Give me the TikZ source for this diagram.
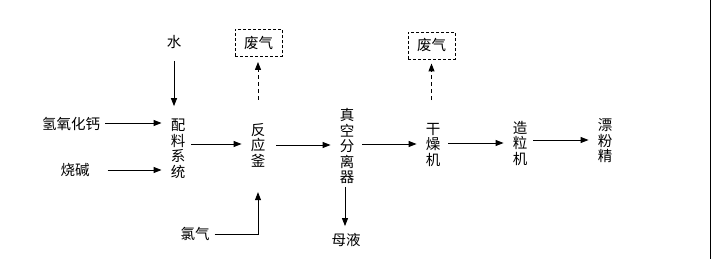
\documentclass[tikz,border=0pt]{standalone}
\usepackage{fontspec}
\newfontfamily\cjk{Noto Sans CJK SC}
\usetikzlibrary{arrows.meta, positioning, calc}

\begin{document}
\begin{tikzpicture}[
    x=1pt, y=-1pt,
    font=\cjk\fontsize{14.5}{15.5}\selectfont,
    >= {Triangle[length=8pt, width=6pt]},
    flow/.style={->, line width=0.9pt, shorten >=6pt, shorten <=3pt},
    vent/.style={->, line width=0.9pt, dash pattern=on 4pt off 3pt},
    stage/.style={align=center, inner xsep=3pt, inner ysep=1pt},
    feed/.style={inner sep=2pt},
    gasbox/.style={draw, line width=0.9pt, dash pattern=on 3pt off 2pt,
        minimum width=47pt, minimum height=27pt, inner sep=0pt},
    ]

    \useasboundingbox (0,0) rectangle (712,259);
    \draw[line width=1pt] (710.5,0) -- (710.5,259);

    % ==========================================
    % Process stages
    % ==========================================
    \node[stage] (mix)     at (178,149) {配\\料\\系\\统};
    \node[stage] (reactor) at (258,145) {反\\应\\釜};
    \node[stage] (sep)     at (347,146) {真\\空\\分\\离\\器};
    \node[stage] (dryer)   at (433,145) {干\\燥\\机};
    \node[stage] (gran)    at (520,143) {造\\粒\\机};
    \node[stage] (product) at (605,141) {漂\\粉\\精};

    % ==========================================
    % Feeds and by-products
    % ==========================================
    \node[feed] (water)    at (174,42)  {水};
    \node[feed] (lime)     at (71,124)  {氢氧化钙};
    \node[feed] (caustic)  at (75,170)  {烧碱};
    \node[feed] (chlorine) at (195,234) {氯气};
    \node[feed] (liquor)   at (346,240) {母液};
    \node[gasbox] (gas1) at (258.5,43)  {废气};
    \node[gasbox] (gas2) at (431.5,45.5) {废气};

    % ==========================================
    % Connectors
    % ==========================================
    \draw[->, line width=0.9pt, shorten <=10pt, shorten >=12pt]
        (water.south) -- (water.south |- mix.north);
    \draw[flow] (lime.east |- 0,123) -- (mix.west |- 0,123);
    \draw[flow, shorten <=16pt] (caustic.east) -- (mix.west |- caustic.east);
    \draw[flow] (mix.east |- 0,144) -- (reactor.west |- 0,144);
    \draw[flow, shorten <=8pt] (reactor.east) -- (sep.west |- reactor.east);
    \draw[flow, shorten <=5pt] (sep.east |- 0,144) -- (dryer.west |- 0,144);
    \draw[flow, shorten <=5pt] (dryer.east |- 0,143) -- (gran.west |- 0,143);
    \draw[flow] (gran.east |- 0,140) -- (product.west |- 0,140);
    \draw[->, line width=0.9pt, shorten <=3pt, shorten >=24pt]
        (chlorine.east) -| (reactor.south);
    \draw[->, line width=0.9pt, shorten <=2pt, shorten >=5pt]
        (sep.south -| 345,0) -- (liquor.north -| 345,0);
    \draw[vent, shorten <=22pt, shorten >=5pt] (reactor.north) -- (gas1.south -| reactor.north);
    \draw[vent, shorten <=22pt, shorten >=4pt] (dryer.north -| gas2.south) -- (gas2.south);

\end{tikzpicture}
\end{document}
